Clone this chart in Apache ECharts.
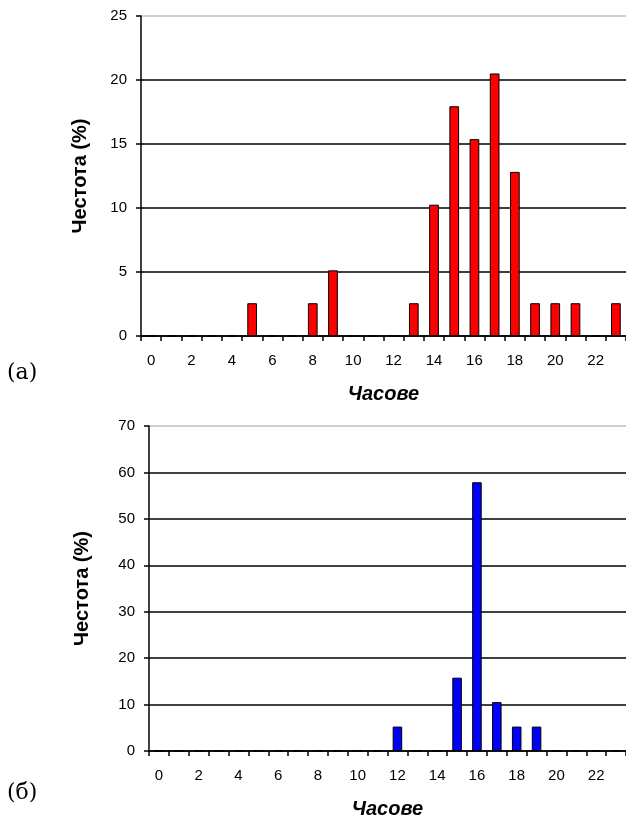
<!DOCTYPE html>
<html>
<head>
<meta charset="utf-8">
<script src="https://cdn.jsdelivr.net/npm/echarts@6/dist/echarts.min.js"></script>
<style>
  html, body { margin: 0; padding: 0; background: #fff; }
  #my_chart { width: 626px; height: 827px; }
</style>
</head>
<body>
<div id="my_chart"></div>
<script>
  // часове 0..23
  var hours = ['0','1','2','3','4','5','6','7','8','9','10','11','12','13','14','15','16','17','18','19','20','21','22','23'];
  // (а) честота в %
  var freqA = [0,0,0,0,0,2.56,0,0,2.56,5.13,0,0,0,2.56,10.26,17.95,15.38,20.51,12.82,2.56,2.56,2.56,0,2.56];
  // (б) честота в %
  var freqB = [0,0,0,0,0,0,0,0,0,0,0,0,5.26,0,0,15.79,57.89,10.53,5.26,5.26,0,0,0,0];

  var yMaxA = 25, yStepA = 5;
  var yMaxB = 70, yStepB = 10;

  var font = '"Liberation Sans", Arial, sans-serif';

  function xAxisFor(idx) {
    return {
      type: 'category',
      gridIndex: idx,
      data: hours,
      name: 'Часове',
      nameLocation: 'middle',
      nameGap: 48,
      nameTextStyle: { fontFamily: font, fontSize: 20, fontWeight: 'bold', fontStyle: 'italic', color: '#000' },
      axisLine: { lineStyle: { color: '#000', width: 1.5 } },
      axisTick: { show: true, interval: 0, length: 5, lineStyle: { color: '#000', width: 1.5 } },
      axisLabel: { interval: 1, margin: 17, fontFamily: font, fontSize: 15, color: '#000' },
      splitLine: { show: false }
    };
  }

  function yAxisFor(idx, max, step, gap) {
    var cols = [];
    for (var i = 0; i < max / step; i++) cols.push('#000');
    cols.push('#c0c0c0');
    return {
      type: 'value',
      gridIndex: idx,
      min: 0,
      max: max,
      interval: step,
      name: 'Честота (%)',
      nameLocation: 'middle',
      nameGap: gap,
      nameTextStyle: { fontFamily: font, fontSize: 20, fontWeight: 'bold', color: '#000' },
      axisLine: { show: true, lineStyle: { color: '#000', width: 1.5 } },
      axisTick: { show: true, length: 5, lineStyle: { color: '#000', width: 1.5 } },
      axisLabel: { margin: 14, fontFamily: font, fontSize: 15, color: '#000' },
      splitLine: { show: true, lineStyle: { color: cols, width: 1.5 } }
    };
  }

  var my_chart = echarts.init(document.getElementById('my_chart'));
  my_chart.setOption({
    animation: false,
    grid: [
      { left: 141, top: 16, width: 485, height: 320 },
      { left: 149, top: 426, width: 480, height: 325 }
    ],
    xAxis: [xAxisFor(0), xAxisFor(1)],
    yAxis: [yAxisFor(0, yMaxA, yStepA, 51), yAxisFor(1, yMaxB, yStepB, 57)],
    series: [{
      type: 'bar',
      xAxisIndex: 0,
      yAxisIndex: 0,
      data: freqA,
      barWidth: '48%',
      itemStyle: { color: '#ff0000', borderColor: '#000', borderWidth: 1 }
    }, {
      type: 'bar',
      xAxisIndex: 1,
      yAxisIndex: 1,
      data: freqB,
      barWidth: '48%',
      itemStyle: { color: '#0000ff', borderColor: '#000', borderWidth: 1 }
    }],
    graphic: [
      { type: 'text', left: 7, top: 362, style: { text: '(а)', font: '22px "DejaVu Serif", serif', fill: '#000' } },
      { type: 'text', left: 7, top: 782, style: { text: '(б)', font: '22px "DejaVu Serif", serif', fill: '#000' } }
    ]
  });
</script>
</body>
</html>
